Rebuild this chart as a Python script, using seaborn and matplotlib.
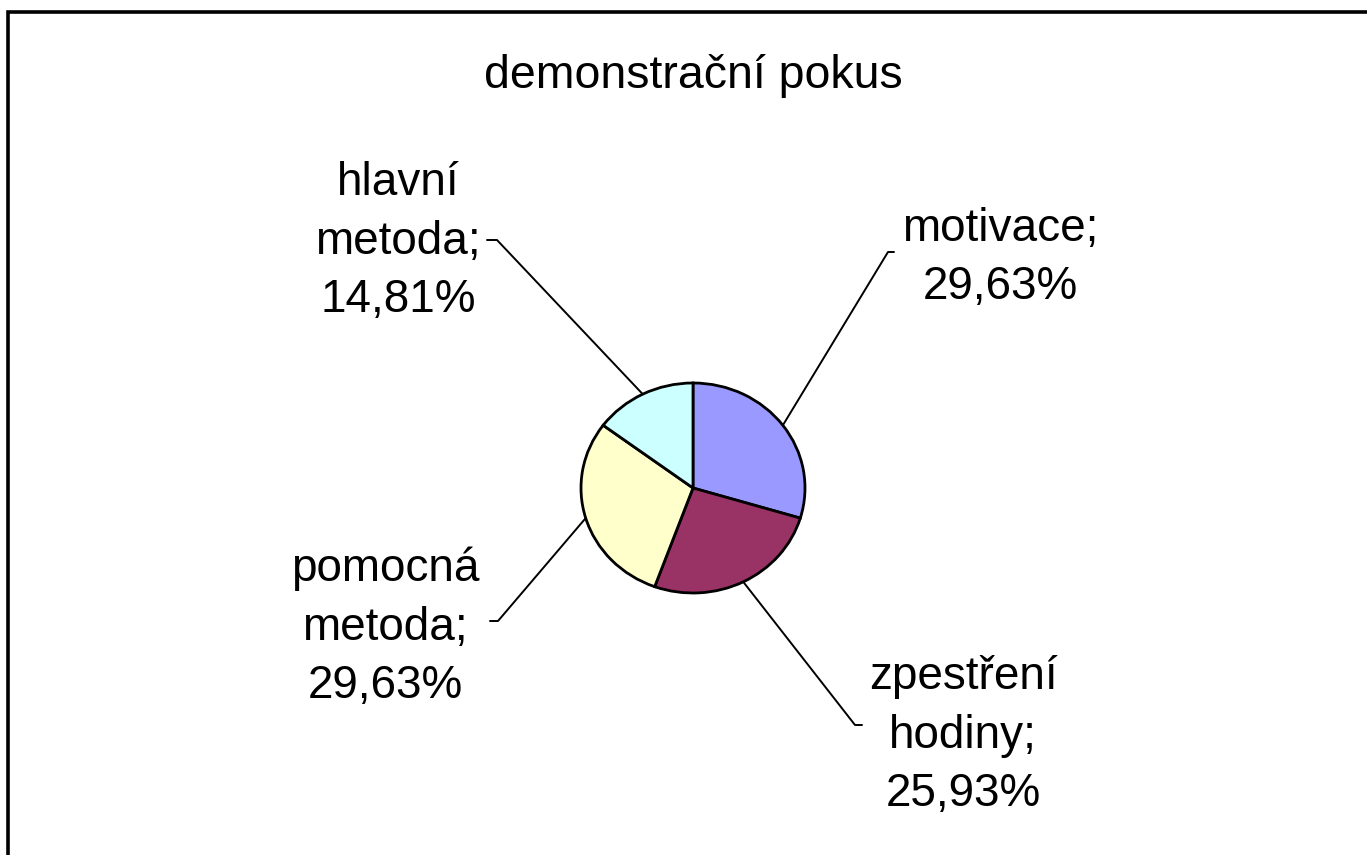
import numpy as np
import matplotlib.pyplot as plt
import seaborn as sns
from matplotlib.patches import Rectangle

# --- DATA ---
title = 'demonstrační pokus'
categories = ['motivace', 'zpestření\nhodiny', 'pomocná\nmetoda', 'hlavní\nmetoda']
values = [29.63, 25.93, 29.63, 14.81]
colors = ['#9999FF', '#993366', '#FFFFCC', '#CCFFFF']

# --- LAYOUT (pixels of the 1367x855 picture) ---
W, H = 1367, 855
cx, cy, rx, ry = 693, 488, 112, 105          # pie centre and radii
label_pos = [(1000, 299), (963, 806), (385, 698), (398, 312)]   # centre x, last baseline
knees = [(888, 252), (855, 725), (498, 621), (497, 240)]
tick_ends = [(894, 252), (862, 725), (490, 621), (487, 240)]

sns.set_theme(style='white')
plt.rcParams['font.family'] = ['Liberation Sans', 'DejaVu Sans']


def to_data(px, py):
    return (px - cx) / rx, (cy - py) / ry


fig = plt.figure(figsize=(W / 100, H / 100), dpi=100)
ax = fig.add_axes([0, 0, 1, 1])

wedges, _ = ax.pie(values, colors=colors, startangle=90, counterclock=False,
                   wedgeprops=dict(edgecolor='black', linewidth=2.0))
ax.set_aspect('auto')
ax.set_xlim(-cx / rx, (W - cx) / rx)
ax.set_ylim(-(H - cy) / ry, cy / ry)
ax.axis('off')

for w, cat, val, lp, kn, te in zip(wedges, categories, values, label_pos, knees, tick_ends):
    mid = np.deg2rad((w.theta1 + w.theta2) / 2)
    edge = (np.cos(mid), np.sin(mid))
    k = to_data(*kn)
    t = to_data(*te)
    ax.plot([t[0], k[0], edge[0]], [t[1], k[1], edge[1]], color='black', lw=1.4)
    txt = f'{cat};\n{val:.2f}%'.replace('.', ',')
    x, y = to_data(*lp)
    ax.text(x, y, txt, ha='center', va='baseline', multialignment='center',
            fontsize=33, linespacing=1.42, color='black')

tx, ty = to_data(693, 88)
ax.text(tx, ty, title, ha='center', va='baseline', fontsize=33.5, color='black')

# chart frame (only left and top edges are visible in the picture)
fig.add_artist(Rectangle((8 / W, -0.1), 1.2, (H - 12) / H + 0.1, transform=fig.transFigure,
                         fill=False, edgecolor='black', linewidth=2.6))

fig.savefig('out.png', dpi=100)
